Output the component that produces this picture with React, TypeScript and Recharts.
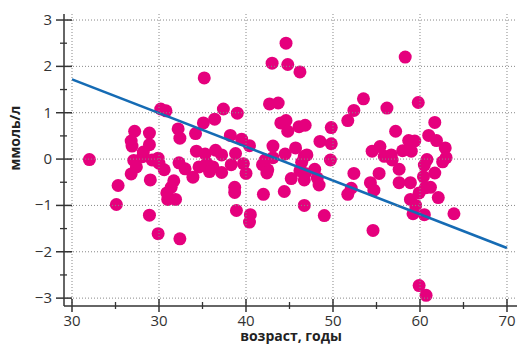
import { Scatter, ScatterChart, XAxis, YAxis } from "recharts";

document.body.style.margin = "0";

// age, years
const ages = [
  22.0, 35.2, 30.2, 30.8, 37.4, 39.0, 27.2, 28.9, 26.8, 26.9, 28.9, 28.2, 28.1, 27.1, 27.4, 26.8,
  29.0, 25.3, 25.1, 28.9, 29.9, 32.4, 29.2, 29.9, 30.0, 30.6, 32.3, 33.0, 33.9, 31.7, 31.4, 30.9,
  31.0, 31.9, 32.2, 32.4, 34.2, 35.1, 36.4, 34.3, 35.3, 36.5, 35.5, 36.2, 35.8, 34.6, 37.2, 37.2,
  38.2, 39.5, 40.4, 38.8, 38.3, 39.7, 40.0, 38.7, 38.7, 38.9, 40.5, 40.4, 41.9, 42.0, 44.6, 43.0,
  44.8, 46.2, 42.7, 43.7, 44.0, 44.6, 44.8, 46.1, 46.8, 48.5, 49.8, 49.8, 49.7, 51.7, 52.4, 53.5,
  43.1, 44.5, 45.7, 43.1, 42.2, 42.5, 42.4, 46.7, 47.0, 46.4, 46.2, 46.8, 47.9, 46.7, 48.2, 48.4,
  45.2, 44.4, 46.7, 49.0, 52.4, 52.1, 51.7, 58.3, 56.2, 59.8, 57.2, 61.7, 61.0, 61.9, 58.7, 59.4,
  58.0, 59.0, 62.9, 63.0, 62.6, 60.8, 60.5, 54.5, 55.4, 55.9, 56.7, 56.8, 57.6, 55.3, 61.7, 60.4,
  54.3, 54.7, 57.6, 58.9, 61.2, 60.6, 59.9, 62.1, 58.9, 59.5, 59.2, 60.5, 63.9, 54.6, 59.9, 60.7,
];

// ммоль/л
const values = [
  -0.01, 1.75, 1.08, 1.04, 1.08, 0.99, 0.6, 0.56, 0.39, 0.28, 0.31, 0.15, 0.05, -0.03, -0.17, -0.32,
  -0.45, -0.57, -0.98, -1.21, -1.61, -1.72, -0.02, 0.02, -0.09, -0.23, -0.08, -0.21, -0.39, -0.47, -0.61, -0.73,
  -0.87, -0.87, 0.65, 0.45, 0.55, 0.78, 0.86, 0.17, 0.11, 0.19, -0.09, -0.17, -0.27, -0.17, 0.09, -0.29,
  0.51, 0.43, 0.29, 0.12, -0.12, -0.1, -0.31, -0.61, -0.72, -1.11, -1.2, -1.36, -0.12, -0.76, 2.5, 2.07,
  2.04, 1.88, 1.19, 1.21, 0.78, 0.83, 0.6, 0.7, 0.73, 0.38, 0.68, 0.33, -0.02, 0.83, 1.05, 1.3,
  0.28, 0.11, 0.24, 0.03, -0.02, -0.23, -0.3, 0.06, 0.09, -0.07, -0.25, -0.31, -0.22, -0.45, -0.41, -0.56,
  -0.42, -0.7, -1.0, -1.22, -0.31, -0.63, -0.76, 2.2, 1.1, 1.22, 0.6, 0.79, 0.51, 0.4, 0.4, 0.39,
  0.18, 0.17, 0.24, 0.03, -0.06, -0.01, -0.13, 0.17, 0.27, 0.06, 0.09, -0.02, -0.22, -0.31, -0.3, -0.38,
  -0.51, -0.67, -0.51, -0.51, -0.61, -0.62, -0.73, -0.83, -0.87, -1.0, -1.18, -1.2, -1.18, -1.54, -2.73, -2.94,
];

// regression line ends
const trendAges = [20, 70];
const trendValues = [1.72, -1.92];

const xMajor = [20, 30, 40, 50, 60, 70];
const xMinor = [25, 35, 45, 55, 65];
const xLabels = ["30", "30", "40", "50", "60", "70"];
const yMajor = [-3, -2, -1, 0, 1, 2, 3];
const yMinor = [-2.5, -1.5, -0.5, 0.5, 1.5, 2.5];

const X_DOMAIN: [number, number] = [19.08, 71.15];
const Y_DOMAIN: [number, number] = [-3.17, 3.13];

const W = 518;
const H = 345;
const M = { top: 14, right: 1, left: 0, bottom: 0 };

const points = ages.map((age, i) => ({ age, value: values[i] }));
const trend = trendAges.map((age, i) => ({ age, value: trendValues[i] }));

const AXIS = "#333";
const TEXT = "#333";
const GRID = "#888";
const PINK = "#e5007d";
const BLUE = "#156bb4";
const FONT = "'Open Sans', sans-serif";

const fmt = (v: number) => (v < 0 ? "\u2212" + Math.abs(v) : String(v));

// major ticks also carry the dotted grid line across the plot
const XTick = ({ x, y, payload }: any) => {
  const v = payload.value;
  const idx = xMajor.indexOf(v);
  if (idx < 0) {
    return <line x1={x} x2={x} y1={y - 4} y2={y + 3} stroke={AXIS} strokeWidth={1.3} />;
  }
  return (
    <g>
      <line x1={x} x2={x} y1={M.top} y2={y} stroke={GRID} strokeWidth={1} strokeDasharray="1 2" />
      <line x1={x} x2={x} y1={y - 7} y2={y + 6} stroke={AXIS} strokeWidth={1.5} />
      <text x={x} y={y + 20} textAnchor="middle" fontSize={15} fill={TEXT} fontFamily={FONT}>
        {xLabels[idx]}
      </text>
    </g>
  );
};

const YTick = ({ x, y, payload }: any) => {
  const v = payload.value;
  if (!yMajor.includes(v)) {
    return <line x1={x - 4} x2={x + 3} y1={y} y2={y} stroke={AXIS} strokeWidth={1.3} />;
  }
  return (
    <g>
      <line x1={x} x2={W - M.right} y1={y} y2={y} stroke={GRID} strokeWidth={1} strokeDasharray="1 2" />
      <line x1={x - 8} x2={x + 8} y1={y} y2={y} stroke={AXIS} strokeWidth={1.5} />
      <text x={x - 12} y={y + 5} textAnchor="end" fontSize={15} fill={TEXT} fontFamily={FONT}>
        {fmt(v)}
      </text>
    </g>
  );
};

const Dot = ({ cx, cy }: any) => <circle cx={cx} cy={cy} r={6.5} fill={PINK} />;
const NoShape = () => <g />;

export default function App() {
  return (
    <div style={{ position: "relative", width: W, height: H, background: "#fff" }}>
      <ScatterChart width={W} height={H} margin={M}>
        <XAxis
          type="number"
          dataKey="age"
          domain={X_DOMAIN}
          allowDataOverflow
          ticks={[...xMajor, ...xMinor].sort((a, b) => a - b)}
          interval={0}
          tick={<XTick />}
          tickLine={false}
          tickSize={0}
          tickMargin={0}
          height={39}
          axisLine={{ stroke: AXIS, strokeWidth: 1.5 }}
        />
        <YAxis
          type="number"
          dataKey="value"
          domain={Y_DOMAIN}
          allowDataOverflow
          ticks={[...yMajor, ...yMinor].sort((a, b) => a - b)}
          interval={0}
          tick={<YTick />}
          tickLine={false}
          tickSize={0}
          tickMargin={0}
          width={64}
          axisLine={{ stroke: AXIS, strokeWidth: 1.5 }}
        />
        <Scatter data={points} shape={<Dot />} isAnimationActive={false} />
        <Scatter
          data={trend}
          line={{ stroke: BLUE, strokeWidth: 2.6 }}
          lineType="joint"
          shape={<NoShape />}
          isAnimationActive={false}
        />
      </ScatterChart>
      <div
        style={{
          position: "absolute",
          left: 14,
          top: 138,
          transform: "translate(-50%, -50%) rotate(-90deg)",
          fontFamily: FONT,
          fontWeight: 700,
          fontSize: 14,
          color: "#222",
          whiteSpace: "nowrap",
        }}
      >
        ммоль/л
      </div>
      <div
        style={{
          position: "absolute",
          left: 291,
          top: 336,
          transform: "translate(-50%, -50%)",
          fontFamily: FONT,
          fontWeight: 700,
          fontSize: 14,
          lineHeight: "16px",
          color: "#222",
          whiteSpace: "nowrap",
        }}
      >
        возраст, годы
      </div>
    </div>
  );
}
